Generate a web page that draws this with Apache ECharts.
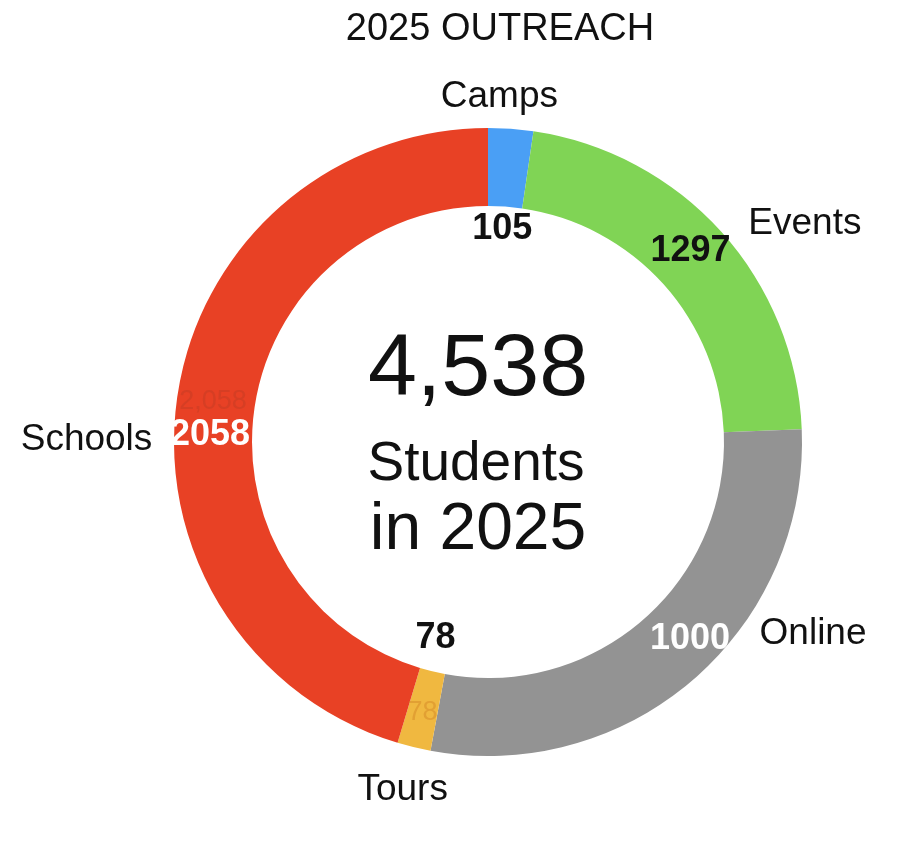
<!DOCTYPE html>
<html><head><meta charset="utf-8">
<script src="https://cdn.jsdelivr.net/npm/echarts@6/dist/echarts.min.js"></script>
<style>html,body{margin:0;padding:0;background:#fff}#c{width:900px;height:852px}</style>
</head><body><div id="c"></div>
<script>
// ---- data ----
const titleText = '2025 OUTREACH';
const categories = ['Camps', 'Events', 'Online', 'Tours', 'Schools'];
const sliceValues = [105, 1000, 1297, 78, 2058];   // sizes of the drawn slices
const shownCounts = [105, 1297, 1000, 78, 2058];   // bold numbers printed on the ring
const totalStudents = 4538;
const centerLines = ['Students', 'in 2025'];

// ---- styling ----
const FONT = '"Liberation Sans", Arial, Helvetica, sans-serif';
const colors = ['#4A9FF5', '#80D455', '#939393', '#F0B840', '#E84125'];
const countColors = ['#111111', '#111111', '#ffffff', '#111111', '#ffffff'];
const faintShow = [false, false, false, true, true];
const faintColors = ['rgba(0,0,0,0)', 'rgba(0,0,0,0)', 'rgba(0,0,0,0)', 'rgba(215,140,40,0.55)', 'rgba(160,55,35,0.25)'];
const countShift = [[-6, 64], [-4, -5], [20, -13], [13, -74], [-3, 34]];
const nameShift = [[-70, -32], [27, -8], [66, -46], [34, 43], [-25, 44]];

const CENTER = [488, 442];
const RADIUS = [236, 314];

const base = {
  type: 'pie', center: CENTER, radius: RADIUS, startAngle: 90, clockwise: true,
  avoidLabelOverlap: false, animation: false, silent: true,
  emphasis: { disabled: true }
};

const chart = echarts.init(document.getElementById('c'), null, { renderer: 'canvas' });
chart.setOption({
  backgroundColor: '#ffffff',
  animation: false,
  series: [
    Object.assign({}, base, {
      z: 1,
      data: categories.map((c, i) => ({
        name: c, value: sliceValues[i],
        itemStyle: { color: colors[i], borderWidth: 0 },
        label: { show: faintShow[i], color: faintColors[i] }
      })),
      label: {
        position: 'inside', fontFamily: FONT, fontSize: 27, fontWeight: 'normal',
        formatter: p => p.value.toLocaleString('en-US')
      },
      labelLine: { show: false }
    }),
    Object.assign({}, base, {
      z: 3,
      data: categories.map((c, i) => ({
        name: c, value: sliceValues[i],
        itemStyle: { color: 'rgba(0,0,0,0)', borderWidth: 0 },
        label: { color: countColors[i] }
      })),
      label: {
        show: true, position: 'inside', fontFamily: FONT, fontSize: 36, fontWeight: 'bold',
        formatter: p => String(shownCounts[p.dataIndex])
      },
      labelLine: { show: false },
      labelLayout: p => ({ dx: countShift[p.dataIndex][0], dy: countShift[p.dataIndex][1] })
    }),
    Object.assign({}, base, {
      z: 3,
      data: categories.map((c, i) => ({
        name: c, value: sliceValues[i],
        itemStyle: { color: 'rgba(0,0,0,0)', borderWidth: 0 }
      })),
      label: {
        show: true, position: 'outside', fontFamily: FONT, fontSize: 37, color: '#111111',
        distanceToLabelLine: 0, formatter: p => p.name
      },
      labelLine: { show: false, length: 0, length2: 0 },
      labelLayout: p => ({ dx: nameShift[p.dataIndex][0], dy: nameShift[p.dataIndex][1] })
    })
  ],
  graphic: [
    { type: 'text', x: 500, y: 30, style: { text: titleText, font: '38px ' + FONT, fill: '#111', textAlign: 'center', textVerticalAlign: 'middle' } },
    { type: 'text', x: 478, y: 371, style: { text: totalStudents.toLocaleString('en-US'), font: '88px ' + FONT, fill: '#111', textAlign: 'center', textVerticalAlign: 'middle' } },
    { type: 'text', x: 476, y: 465, style: { text: centerLines[0], font: '55px ' + FONT, fill: '#111', textAlign: 'center', textVerticalAlign: 'middle' } },
    { type: 'text', x: 478, y: 531, style: { text: centerLines[1], font: '66px ' + FONT, fill: '#111', textAlign: 'center', textVerticalAlign: 'middle' } }
  ]
});
</script>
</body></html>
